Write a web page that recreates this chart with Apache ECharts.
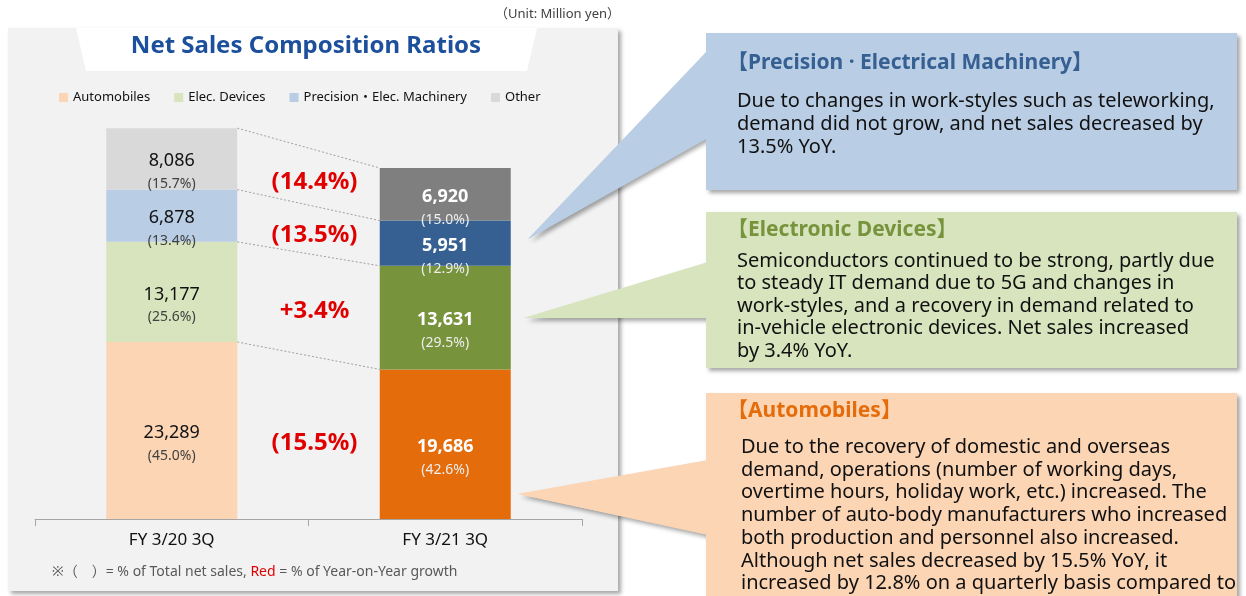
<!DOCTYPE html>
<html>
<head>
<meta charset="utf-8">
<script src="https://cdn.jsdelivr.net/npm/echarts@6.0.0/dist/echarts.min.js"></script>
<style>
  html, body { margin: 0; padding: 0; background: #fff; }
  #main { width: 1246px; height: 596px; }
</style>
</head>
<body>
<div id="main"></div>
<script>
// data (million yen)
const categories = ['FY 3/20 3Q', 'FY 3/21 3Q'];
const segments = ['Automobiles', 'Elec. Devices', 'Precision・Elec. Machinery', 'Other'];
const salesPrev = [23289, 13177, 6878, 8086];
const salesCurr = [19686, 13631, 5951, 6920];
const sharePrev = [45.0, 25.6, 13.4, 15.7];
const shareCurr = [42.6, 29.5, 12.9, 15.0];
const yoyGrowth = [-15.5, 3.4, -13.5, -14.4];

const lightColors = ['#fcd5b5', '#d7e4bd', '#b9cde5', '#d9d9d9'];
const darkColors = ['#e46c0a', '#77933c', '#376092', '#7f7f7f'];

const FONT = '"Noto Sans", "Noto Sans CJK JP", sans-serif';
const BAR_W = 131;

const chart = echarts.init(document.getElementById('main'));

const fmt = v => v.toLocaleString('en-US');
const fmtYoy = v => v < 0 ? '(' + Math.abs(v).toFixed(1) + '%)' : '+' + v.toFixed(1) + '%';

const cumPrev = [], cumCurr = [];
salesPrev.reduce((s, v, i) => (cumPrev[i] = s + v), 0);
salesCurr.reduce((s, v, i) => (cumCurr[i] = s + v), 0);

const barSeries = segments.map((name, i) => ({
  name: name,
  type: 'bar',
  stack: 'total',
  barWidth: BAR_W,
  color: lightColors[i],
  data: [
    { value: salesPrev[i], itemStyle: { color: lightColors[i] } },
    { value: salesCurr[i], itemStyle: { color: darkColors[i] } }
  ],
  label: {
    show: true,
    position: 'inside',
    offset: [0, 13],
    formatter: p => {
      const d = p.dataIndex;
      const share = (d === 0 ? sharePrev : shareCurr)[i].toFixed(1);
      return '{v' + d + '|' + fmt(p.value) + '}\n{p' + d + '|(' + share + '%)}';
    },
    rich: {
      v0: { fontFamily: FONT, fontSize: 18, color: '#111', lineHeight: 25 },
      p0: { fontFamily: FONT, fontSize: 14, color: '#404040', lineHeight: 21 },
      v1: { fontFamily: FONT, fontSize: 18, fontWeight: 'bold', color: '#fff', lineHeight: 25 },
      p1: { fontFamily: FONT, fontSize: 14, color: '#eeeeee', lineHeight: 21 }
    }
  }
}));

// dotted connectors between segment tops
const connectorSeries = {
  type: 'custom',
  name: 'connector',
  silent: true,
  z: 1,
  encode: { x: 0, y: [1, 2] },
  data: segments.map((_, i) => [0, cumPrev[i], cumCurr[i]]),
  renderItem: (params, api) => {
    const a = api.coord([0, api.value(1)]);
    const b = api.coord([1, api.value(2)]);
    return {
      type: 'line',
      shape: { x1: a[0] + BAR_W / 2, y1: a[1], x2: b[0] - BAR_W / 2, y2: b[1] },
      style: { stroke: '#a0a0a0', lineWidth: 1, lineDash: [2, 2] }
    };
  }
};

// red YoY growth between the bars
const yoySeries = {
  type: 'custom',
  name: 'yoy',
  silent: true,
  encode: { x: 0, y: [1, 2] },
  data: segments.map((_, i) => [0, cumPrev[i] - salesPrev[i] / 2, cumCurr[i] - salesCurr[i] / 2, yoyGrowth[i]]),
  renderItem: (params, api) => {
    const a = api.coord([0, api.value(1)]);
    const b = api.coord([1, api.value(2)]);
    return {
      type: 'text',
      x: (a[0] + b[0]) / 2 + 6,
      y: (a[1] + b[1]) / 2 + 6,
      style: {
        text: fmtYoy(api.value(3)),
        fill: '#e00000',
        font: 'bold 24px ' + FONT,
        align: 'center',
        verticalAlign: 'middle'
      }
    };
  }
};

const shadow = { shadowBlur: 4, shadowOffsetX: 3, shadowOffsetY: 3, shadowColor: 'rgba(0,0,0,0.35)' };

function callout(boxTop, boxBottom, wedge, fill, title, titleColor, titleY, body, bodyX, bodyTop, lh) {
  return [
    { type: 'polygon', z: -5, shape: { points: wedge }, style: Object.assign({ fill: fill }, shadow) },
    { type: 'rect', z: -4, shape: { x: 706, y: boxTop, width: 531, height: boxBottom - boxTop },
      style: Object.assign({ fill: fill }, shadow) },
    { type: 'polygon', z: -3, shape: { points: wedge.map(p => [p[0] + (p[0] >= 706 ? 2 : 0), p[1]]) }, style: { fill: fill } },
    { type: 'text', z: -2, x: 727, y: titleY,
      style: { text: title, fill: titleColor, font: 'bold 21px ' + FONT, verticalAlign: 'middle' } },
    { type: 'text', z: -2, x: bodyX, y: bodyTop,
      style: { text: body, fill: '#111', font: '20px ' + FONT, lineHeight: lh, verticalAlign: 'top' } }
  ];
}

const graphics = [
  // left panel
  { type: 'rect', z: -10, shape: { x: 8, y: 28, width: 610, height: 563 },
    style: Object.assign({ fill: '#f2f2f2' }, shadow) },
  { type: 'polygon', z: -9, shape: { points: [[76, 28], [537, 28], [527, 71], [86, 71]] },
    style: { fill: '#ffffff' } },
  { type: 'text', z: -8, x: 306, y: 46,
    style: { text: 'Net Sales Composition Ratios', fill: '#1c4f9c', font: 'bold 24px ' + FONT,
      align: 'center', verticalAlign: 'middle' } },
  { type: 'text', z: -8, x: 620, y: 14,
    style: { text: '（Unit: Million yen）', fill: '#404040', font: '13px ' + FONT,
      align: 'right', verticalAlign: 'middle' } },
  { type: 'text', z: -8, x: 52, y: 572,
    style: {
      text: '{g|※（　）= % of Total net sales, }{r|Red}{g| = % of Year-on-Year growth}',
      verticalAlign: 'middle',
      rich: {
        g: { fill: '#595959', font: '14px ' + FONT },
        r: { fill: '#e00000', font: '14px ' + FONT }
      }
    } }
].concat(
  callout(33, 190, [[528, 239], [708, 50], [708, 137]], '#b9cde5',
    '【Precision · Electrical Machinery】', '#376092', 63,
    'Due to changes in work-styles such as teleworking,\ndemand did not grow, and net sales decreased by\n13.5% YoY.',
    737, 89.5, 23),
  callout(212, 368, [[524, 318], [708, 262], [708, 318]], '#d7e4bd',
    '【Electronic Devices】', '#77933c', 230,
    'Semiconductors continued to be strong, partly due\nto steady IT demand due to 5G and changes in\nwork-styles, and a recovery in demand related to\nin-vehicle electronic devices. Net sales increased\nby 3.4% YoY.',
    737, 250, 22.5),
  callout(393, 640, [[518, 494], [708, 460], [708, 535]], '#fcd5b5',
    '【Automobiles】', '#e46c0a', 411,
    'Due to the recovery of domestic and overseas\ndemand, operations (number of working days,\novertime hours, holiday work, etc.) increased. The\nnumber of auto-body manufacturers who increased\nboth production and personnel also increased.\nAlthough net sales decreased by 15.5% YoY, it\nincreased by 12.8% on a quarterly basis compared to',
    741, 436, 22.7)
);

const options = {
  animation: false,
  backgroundColor: '#ffffff',
  textStyle: { fontFamily: FONT },
  legend: {
    data: segments,
    left: 54,
    top: 86,
    itemWidth: 9,
    itemHeight: 9,
    itemGap: 24,
    icon: 'rect',
    textStyle: { fontSize: 13, color: '#111', fontFamily: FONT }
  },
  grid: { left: 35, right: 664, top: 63, bottom: 77 },
  xAxis: {
    type: 'category',
    data: categories,
    axisLine: { lineStyle: { color: '#a6a6a6' } },
    axisTick: { show: true, length: 7, lineStyle: { color: '#a6a6a6' } },
    axisLabel: { fontSize: 17, color: '#111', margin: 13, fontFamily: FONT }
  },
  yAxis: { type: 'value', min: 0, max: 60000, show: false },
  series: barSeries.concat([connectorSeries, yoySeries]),
  graphic: graphics
};

chart.setOption(options);
</script>
</body>
</html>
